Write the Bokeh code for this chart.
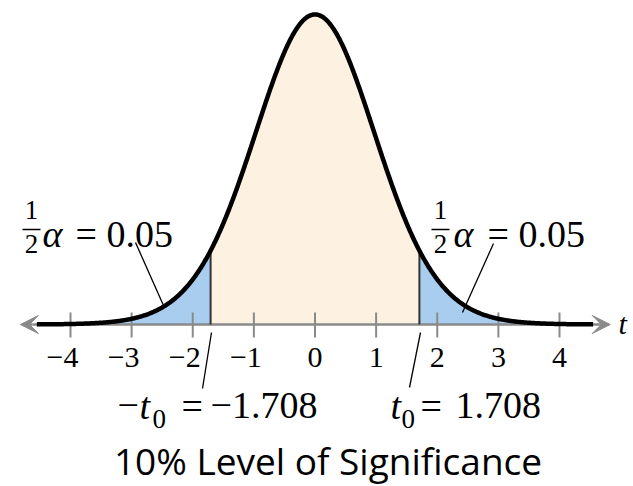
import math
import numpy as np
from bokeh.plotting import figure
from bokeh.models import Range1d, Arrow, VeeHead
from bokeh.core.properties import value
from bokeh.embed import file_html
from bokeh.resources import INLINE

# ---------------- data ----------------
df = 25                      # degrees of freedom
t0 = 1.708                   # critical value
half_alpha_text = "0.05"
t0_text = "1.708"
tick_values = [-4, -3, -2, -1, 0, 1, 2, 3, 4]
neg_ticks = [-4, -3, -2, -1]
neg_labels = ["\u22124", "\u22123", "\u22122", "\u22121"]
pos_ticks = [0, 1, 2, 3, 4]
pos_labels = ["0", "1", "2", "3", "4"]
curve_lo, curve_hi = -4.55, 4.55
axis_lo, axis_hi = -4.82, 4.83
title_text = "10% Level of Significance"


def t_pdf(x, nu):
    c = math.exp(math.lgamma((nu + 1) / 2) - math.lgamma(nu / 2)) / math.sqrt(nu * math.pi)
    return c * (1 + np.asarray(x, dtype=float) ** 2 / nu) ** (-(nu + 1) / 2)


# ---------------- layout ----------------
W, H = 633, 486
X0, SX = 314.5, 61.125       # px of t=0, px per unit
Y0, SY = 324.0, 785.0        # px of density 0, px per unit
TS = 10                      # text baseline correction (px)


def px(page_x):
    return (page_x - X0) / SX


def py(page_y):
    return (Y0 - page_y) / SY


def ty(page_y):
    return py(page_y - TS)


p = figure(width=W, height=H, output_backend="svg", toolbar_location=None,
           x_range=Range1d(-X0 / SX, (W - X0) / SX),
           y_range=Range1d(-(H - Y0) / SY, Y0 / SY),
           x_axis_location=None, y_axis_location=None, min_border=0)
p.grid.visible = False
p.outline_line_color = None
p.background_fill_color = "white"

BLUE = "#a9cdee"
PEACH = "#fdf1e1"
GRAY = "#8a8a8a"
SERIF = value("Liberation Serif")

# fills
xc = np.linspace(-t0, t0, 300)
xl = np.linspace(curve_lo, -t0, 200)
xr = np.linspace(t0, curve_hi, 200)
p.varea(x=xc, y1=0, y2=t_pdf(xc, df), fill_color=PEACH)
p.varea(x=xl, y1=0, y2=t_pdf(xl, df), fill_color=BLUE)
p.varea(x=xr, y1=0, y2=t_pdf(xr, df), fill_color=BLUE)

# axis line and ticks
p.line(x=[axis_lo + 0.2, axis_hi - 0.2], y=[0, 0], line_color=GRAY, line_width=2.5)
p.segment(x0=tick_values, y0=[py(312)] * len(tick_values), x1=tick_values,
          y1=[py(337)] * len(tick_values), line_color=GRAY, line_width=2)

# critical value lines
p.segment(x0=[-t0, t0], y0=[0, 0], x1=[-t0, t0], y1=list(t_pdf([-t0, t0], df)),
          line_color="#333333", line_width=2)

# curve
xs = np.linspace(curve_lo, curve_hi, 800)
p.line(x=xs, y=t_pdf(xs, df), line_color="black", line_width=4.5, line_join="round")

# arrow heads
for a_start, a_end in [(-4.62, axis_lo), (4.62, axis_hi)]:
    p.add_layout(Arrow(end=VeeHead(size=18, fill_color=GRAY, line_color=GRAY),
                       x_start=a_start, y_start=0, x_end=a_end, y_end=0,
                       line_color=GRAY, line_width=2.5))

# tick labels
p.text(x=neg_ticks, y=[ty(367)] * 4, text=neg_labels, text_font=SERIF,
       text_font_size="30px", text_align="center", text_baseline="alphabetic",
       x_offset=-8, text_color="black")
p.text(x=pos_ticks, y=[ty(367)] * 5, text=pos_labels, text_font=SERIF,
       text_font_size="30px", text_align="center", text_baseline="alphabetic",
       text_color="black")
p.text(x=[px(618)], y=[ty(333)], text=["t"], text_font=SERIF, text_font_style="italic",
       text_font_size="30px", text_baseline="alphabetic", text_color="black")

# leader lines
p.segment(x0=[px(135), px(493), px(211), px(420)],
          y0=[py(242), py(243), py(332), py(332)],
          x1=[px(163), px(462), px(202), px(409)],
          y1=[py(305), py(312), py(388), py(387)],
          line_color="black", line_width=1.3)

# 1/2 alpha = 0.05 labels
for cx, ax, eqx in [(31, 42, 75), (440, 453, 487)]:
    p.text(x=[px(cx), px(cx)], y=[ty(219), ty(253)], text=["1", "2"], text_font=SERIF,
           text_font_size="27px", text_align="center", text_baseline="alphabetic",
           text_color="black")
    p.segment(x0=[px(cx - 9)], y0=[py(229)], x1=[px(cx + 9)], y1=[py(229)],
              line_color="black", line_width=1.5)
    p.text(x=[px(ax)], y=[ty(243)], text=["\u03b1"], text_font=SERIF,
           text_font_style="italic", text_font_size="38px", text_baseline="alphabetic",
           text_color="black")
    p.text(x=[px(eqx)], y=[ty(243)], text=["= " + half_alpha_text], text_font=SERIF,
           text_font_size="38px", text_baseline="alphabetic", text_color="black")

# -t0 = -1.708  and  t0 = 1.708
p.text(x=[px(117)], y=[ty(415)], text=["\u2212"], text_font=SERIF,
       text_font_size="38px", text_baseline="alphabetic", text_color="black")
p.text(x=[px(139), px(390)], y=[ty(415), ty(415)], text=["t", "t"], text_font=SERIF,
       text_font_style="italic", text_font_size="38px", text_baseline="alphabetic",
       text_color="black")
p.text(x=[px(152), px(401)], y=[ty(428), ty(428)], text=["0", "0"], text_font=SERIF,
       text_font_size="27px", text_baseline="alphabetic", text_color="black")
p.text(x=[px(181), px(420)], y=[ty(415), ty(415)], text=["=", "="], text_font=SERIF,
       text_font_size="38px", text_baseline="alphabetic", text_color="black")
p.text(x=[px(210), px(455)], y=[ty(415), ty(415)],
       text=["\u2212" + t0_text, t0_text], text_font=SERIF,
       text_font_size="38px", text_baseline="alphabetic", text_color="black")

# title
p.text(x=[px(327.5)], y=[ty(470)], text=[title_text], text_font=value("Open Sans"),
       text_font_size="37px", text_align="center", text_baseline="alphabetic",
       text_color="black")

open("out.html", "w").write(file_html(p, INLINE))
